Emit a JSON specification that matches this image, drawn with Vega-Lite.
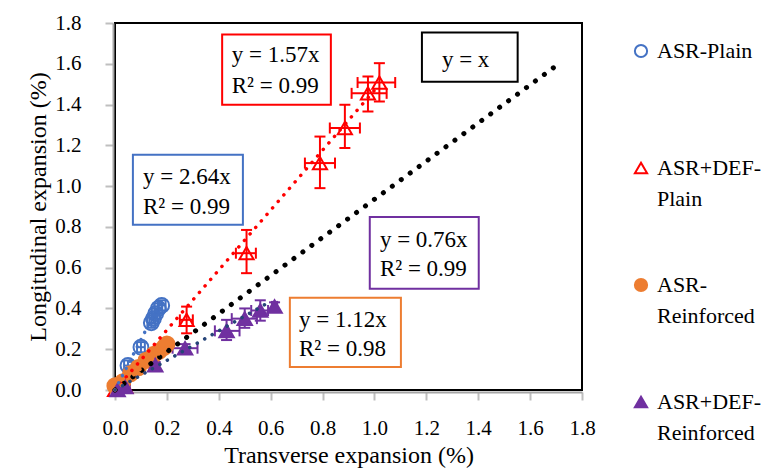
{
  "$schema": "https://vega.github.io/schema/vega-lite/v6.json",
  "width": 467,
  "height": 367,
  "autosize": {"type": "none"},
  "padding": {"left": 115, "top": 23, "right": 191, "bottom": 80},
  "background": "white",
  "config": {
    "font": "Liberation Serif",
    "view": {"stroke": "black", "strokeWidth": 2},
    "axis": {
      "grid": false,
      "labelFlush": false,
      "domainColor": "#a6a6a6",
      "domainWidth": 2,
      "offset": 2,
      "tickColor": "#bfbfbf",
      "tickWidth": 2,
      "tickSize": 8,
      "labelFont": "Liberation Serif",
      "labelFontSize": 21,
      "labelColor": "black",
      "titleFont": "Liberation Serif",
      "titleFontSize": 24,
      "titleFontWeight": "normal",
      "titleColor": "black"
    },
    "legend": {
      "orient": "right",
      "offset": 31,
      "padding": 17,
      "symbolSize": 150,
      "symbolStrokeWidth": 2,
      "labelFontSize": 22,
      "labelFont": "Liberation Serif",
      "labelColor": "black",
      "labelOffset": 5,
      "rowPadding": 64,
      "labelLimit": 250
    },
    "style": {"guide-label": {"lineHeight": 31, "font": "Liberation Serif", "fill": "black"}}
  },
  "datasets": {
    "pts": [
      {"s": "ASR-Plain", "x": 0.005, "y": 0.02, "xlo": 0.0, "xhi": 0.02, "ylo": 0.0, "yhi": 0.045},
      {"s": "ASR-Plain", "x": 0.05, "y": 0.12, "xlo": 0.035, "xhi": 0.065, "ylo": 0.095, "yhi": 0.145},
      {"s": "ASR-Plain", "x": 0.1, "y": 0.21, "xlo": 0.085, "xhi": 0.115, "ylo": 0.185, "yhi": 0.235},
      {"s": "ASR-Plain", "x": 0.14, "y": 0.33, "xlo": 0.125, "xhi": 0.155, "ylo": 0.305, "yhi": 0.355},
      {"s": "ASR-Plain", "x": 0.148, "y": 0.35, "xlo": 0.133, "xhi": 0.163, "ylo": 0.325, "yhi": 0.375},
      {"s": "ASR-Plain", "x": 0.157, "y": 0.375, "xlo": 0.142, "xhi": 0.172, "ylo": 0.35, "yhi": 0.4},
      {"s": "ASR-Plain", "x": 0.167, "y": 0.4, "xlo": 0.152, "xhi": 0.182, "ylo": 0.375, "yhi": 0.425},
      {"s": "ASR-Plain", "x": 0.18, "y": 0.415, "xlo": 0.165, "xhi": 0.195, "ylo": 0.39, "yhi": 0.44},
      {"s": "ASR+DEF-Plain", "x": 0.0, "y": 0.0, "xlo": 0.0, "xhi": 0.01, "ylo": 0.0, "yhi": 0.01},
      {"s": "ASR+DEF-Plain", "x": 0.04, "y": 0.015, "xlo": 0.03, "xhi": 0.05, "ylo": 0.005, "yhi": 0.025},
      {"s": "ASR+DEF-Plain", "x": 0.276, "y": 0.344, "xlo": 0.25, "xhi": 0.3, "ylo": 0.278, "yhi": 0.409},
      {"s": "ASR+DEF-Plain", "x": 0.507, "y": 0.671, "xlo": 0.466, "xhi": 0.543, "ylo": 0.573, "yhi": 0.785},
      {"s": "ASR+DEF-Plain", "x": 0.79, "y": 1.113, "xlo": 0.732, "xhi": 0.848, "ylo": 0.99, "yhi": 1.243},
      {"s": "ASR+DEF-Plain", "x": 0.886, "y": 1.285, "xlo": 0.828, "xhi": 0.944, "ylo": 1.187, "yhi": 1.399},
      {"s": "ASR+DEF-Plain", "x": 0.975, "y": 1.455, "xlo": 0.912, "xhi": 1.047, "ylo": 1.366, "yhi": 1.538},
      {"s": "ASR+DEF-Plain", "x": 1.019, "y": 1.508, "xlo": 0.935, "xhi": 1.08, "ylo": 1.415, "yhi": 1.603},
      {"s": "ASR-Reinforced", "x": 0.0, "y": 0.02, "xlo": 0.0, "xhi": 0.005, "ylo": 0.015, "yhi": 0.025},
      {"s": "ASR-Reinforced", "x": 0.03, "y": 0.04, "xlo": 0.025, "xhi": 0.035, "ylo": 0.035, "yhi": 0.045},
      {"s": "ASR-Reinforced", "x": 0.06, "y": 0.08, "xlo": 0.055, "xhi": 0.065, "ylo": 0.075, "yhi": 0.085},
      {"s": "ASR-Reinforced", "x": 0.09, "y": 0.11, "xlo": 0.085, "xhi": 0.095, "ylo": 0.105, "yhi": 0.115},
      {"s": "ASR-Reinforced", "x": 0.12, "y": 0.145, "xlo": 0.115, "xhi": 0.125, "ylo": 0.14, "yhi": 0.15},
      {"s": "ASR-Reinforced", "x": 0.15, "y": 0.175, "xlo": 0.145, "xhi": 0.155, "ylo": 0.17, "yhi": 0.18},
      {"s": "ASR-Reinforced", "x": 0.17, "y": 0.19, "xlo": 0.165, "xhi": 0.175, "ylo": 0.185, "yhi": 0.195},
      {"s": "ASR-Reinforced", "x": 0.19, "y": 0.21, "xlo": 0.185, "xhi": 0.195, "ylo": 0.205, "yhi": 0.215},
      {"s": "ASR-Reinforced", "x": 0.2, "y": 0.225, "xlo": 0.195, "xhi": 0.205, "ylo": 0.22, "yhi": 0.23},
      {"s": "ASR+DEF-Reinforced", "x": 0.01, "y": 0.0, "xlo": 0.005, "xhi": 0.015, "ylo": 0.0, "yhi": 0.005},
      {"s": "ASR+DEF-Reinforced", "x": 0.04, "y": 0.015, "xlo": 0.035, "xhi": 0.045, "ylo": 0.01, "yhi": 0.02},
      {"s": "ASR+DEF-Reinforced", "x": 0.155, "y": 0.122, "xlo": 0.145, "xhi": 0.165, "ylo": 0.107, "yhi": 0.137},
      {"s": "ASR+DEF-Reinforced", "x": 0.27, "y": 0.205, "xlo": 0.222, "xhi": 0.318, "ylo": 0.19, "yhi": 0.225},
      {"s": "ASR+DEF-Reinforced", "x": 0.43, "y": 0.29, "xlo": 0.385, "xhi": 0.48, "ylo": 0.245, "yhi": 0.344},
      {"s": "ASR+DEF-Reinforced", "x": 0.5, "y": 0.35, "xlo": 0.45, "xhi": 0.547, "ylo": 0.305, "yhi": 0.4},
      {"s": "ASR+DEF-Reinforced", "x": 0.56, "y": 0.39, "xlo": 0.525, "xhi": 0.59, "ylo": 0.34, "yhi": 0.44},
      {"s": "ASR+DEF-Reinforced", "x": 0.615, "y": 0.41, "xlo": 0.605, "xhi": 0.625, "ylo": 0.39, "yhi": 0.43}
    ],
    "lines": [
      {"s": "y = x", "x": 0, "y": 0},
      {"s": "y = x", "x": 1.7, "y": 1.59},
      {"s": "ASR-Plain", "x": 0, "y": 0},
      {"s": "ASR-Plain", "x": 0.18, "y": 0.445},
      {"s": "ASR+DEF-Plain", "x": 0, "y": 0},
      {"s": "ASR+DEF-Plain", "x": 1.0, "y": 1.47},
      {"s": "ASR-Reinforced", "x": 0, "y": 0},
      {"s": "ASR-Reinforced", "x": 0.2, "y": 0.21},
      {"s": "ASR+DEF-Reinforced", "x": 0, "y": 0},
      {"s": "ASR+DEF-Reinforced", "x": 0.6, "y": 0.435}
    ],
    "boxes": [
      {"s": "ASR+DEF-Plain", "x": 0.413, "x2": 0.832, "y": 1.743, "y2": 1.399},
      {"s": "ASR-Plain", "x": 0.069, "x2": 0.493, "y": 1.154, "y2": 0.81},
      {"s": "y = x", "x": 1.183, "x2": 1.552, "y": 1.753, "y2": 1.512},
      {"s": "ASR+DEF-Reinforced", "x": 0.982, "x2": 1.402, "y": 0.849, "y2": 0.496},
      {"s": "ASR-Reinforced", "x": 0.674, "x2": 1.102, "y": 0.452, "y2": 0.113}
    ],
    "notes": [
      {"x": 0.45, "y": 1.645, "t": "y = 1.57x"},
      {"x": 0.45, "y": 1.489, "t": "R² = 0.99"},
      {"x": 0.108, "y": 1.046, "t": "y = 2.64x"},
      {"x": 0.108, "y": 0.898, "t": "R² = 0.99"},
      {"x": 1.26, "y": 1.62, "t": "y = x"},
      {"x": 1.021, "y": 0.736, "t": "y = 0.76x"},
      {"x": 1.021, "y": 0.594, "t": "R² = 0.99"},
      {"x": 0.709, "y": 0.344, "t": "y = 1.12x"},
      {"x": 0.709, "y": 0.201, "t": "R² = 0.98"}
    ]
  },
  "layer": [
    {
      "data": {"name": "boxes"},
      "mark": {"type": "rect", "filled": false, "strokeWidth": 2},
      "encoding": {
        "x": {"field": "x", "type": "quantitative", "scale": {"domain": [0, 1.8], "nice": false, "zero": false},
          "axis": {"title": "Transverse expansion (%)", "values": [0, 0.2, 0.4, 0.6, 0.8, 1.0, 1.2, 1.4, 1.6, 1.8], "format": ".1f", "labelPadding": 17, "titlePadding": 5}},
        "x2": {"field": "x2"},
        "y": {"field": "y", "type": "quantitative", "scale": {"domain": [0, 1.8], "nice": false, "zero": false},
          "axis": {"title": "Longitudinal expansion (%)", "values": [0, 0.2, 0.4, 0.6, 0.8, 1.0, 1.2, 1.4, 1.6, 1.8], "format": ".1f", "labelPadding": 24, "titlePadding": 4}},
        "y2": {"field": "y2"},
        "color": {"field": "s", "type": "nominal", "legend": null,
          "scale": {"domain": ["ASR-Plain", "ASR+DEF-Plain", "ASR-Reinforced", "ASR+DEF-Reinforced", "y = x"], "range": ["#4472C4", "#FF0000", "#ED7D31", "#7030A0", "#000000"]}}
      }
    },
    {
      "data": {"name": "notes"},
      "mark": {"type": "text", "align": "left", "baseline": "middle", "fontSize": 23, "font": "Liberation Serif", "color": "black"},
      "encoding": {
        "x": {"field": "x", "type": "quantitative"},
        "y": {"field": "y", "type": "quantitative"},
        "text": {"field": "t", "type": "nominal"}
      }
    },
    {
      "data": {"name": "pts"},
      "mark": {"type": "rule", "strokeWidth": 2, "opacity": 1},
      "encoding": {
        "x": {"field": "x", "type": "quantitative"},
        "y": {"field": "ylo", "type": "quantitative"},
        "y2": {"field": "yhi"},
        "color": {"field": "s", "type": "nominal", "legend": null}
      }
    },
    {
      "data": {"name": "pts"},
      "mark": {"type": "rule", "strokeWidth": 2, "opacity": 1},
      "encoding": {
        "y": {"field": "y", "type": "quantitative"},
        "x": {"field": "xlo", "type": "quantitative"},
        "x2": {"field": "xhi"},
        "color": {"field": "s", "type": "nominal", "legend": null}
      }
    },
    {
      "data": {"name": "pts"},
      "mark": {"type": "tick", "orient": "horizontal", "size": 11, "thickness": 2, "opacity": 1},
      "encoding": {
        "x": {"field": "x", "type": "quantitative"},
        "y": {"field": "ylo", "type": "quantitative"},
        "color": {"field": "s", "type": "nominal", "legend": null}
      }
    },
    {
      "data": {"name": "pts"},
      "mark": {"type": "tick", "orient": "horizontal", "size": 11, "thickness": 2, "opacity": 1},
      "encoding": {
        "x": {"field": "x", "type": "quantitative"},
        "y": {"field": "yhi", "type": "quantitative"},
        "color": {"field": "s", "type": "nominal", "legend": null}
      }
    },
    {
      "data": {"name": "pts"},
      "mark": {"type": "tick", "orient": "vertical", "size": 11, "thickness": 2, "opacity": 1},
      "encoding": {
        "x": {"field": "xlo", "type": "quantitative"},
        "y": {"field": "y", "type": "quantitative"},
        "color": {"field": "s", "type": "nominal", "legend": null}
      }
    },
    {
      "data": {"name": "pts"},
      "mark": {"type": "tick", "orient": "vertical", "size": 11, "thickness": 2, "opacity": 1},
      "encoding": {
        "x": {"field": "xhi", "type": "quantitative"},
        "y": {"field": "y", "type": "quantitative"},
        "color": {"field": "s", "type": "nominal", "legend": null}
      }
    },
    {
      "data": {"name": "pts"},
      "mark": {"type": "point", "strokeWidth": 2, "opacity": 1},
      "encoding": {
        "x": {"field": "x", "type": "quantitative"},
        "y": {"field": "y", "type": "quantitative"},
        "shape": {"field": "s", "type": "nominal",
          "scale": {"domain": ["ASR-Plain", "ASR+DEF-Plain", "ASR-Reinforced", "ASR+DEF-Reinforced"], "range": ["circle", "triangle-up", "circle", "triangle-up"]},
          "legend": {"title": null, "labelFont": "Liberation Serif", "labelColor": "black", "labelFontSize": 22,
            "labelExpr": "datum.label == 'ASR-Plain' ? ['ASR-Plain', ''] : datum.label == 'ASR+DEF-Plain' ? ['ASR+DEF-', 'Plain'] : datum.label == 'ASR-Reinforced' ? ['ASR-', 'Reinforced'] : ['ASR+DEF-', 'Reinforced']"}},
        "stroke": {"field": "s", "type": "nominal",
          "scale": {"domain": ["ASR-Plain", "ASR+DEF-Plain", "ASR-Reinforced", "ASR+DEF-Reinforced"], "range": ["#4472C4", "#FF0000", "#ED7D31", "#7030A0"]},
          "legend": {"title": null, "labelFont": "Liberation Serif", "labelColor": "black", "labelFontSize": 22,
            "labelExpr": "datum.label == 'ASR-Plain' ? ['ASR-Plain', ''] : datum.label == 'ASR+DEF-Plain' ? ['ASR+DEF-', 'Plain'] : datum.label == 'ASR-Reinforced' ? ['ASR-', 'Reinforced'] : ['ASR+DEF-', 'Reinforced']"}},
        "fill": {"field": "s", "type": "nominal",
          "scale": {"domain": ["ASR-Plain", "ASR+DEF-Plain", "ASR-Reinforced", "ASR+DEF-Reinforced"], "range": ["transparent", "transparent", "#ED7D31", "#7030A0"]},
          "legend": {"title": null, "labelFont": "Liberation Serif", "labelColor": "black", "labelFontSize": 22,
            "labelExpr": "datum.label == 'ASR-Plain' ? ['ASR-Plain', ''] : datum.label == 'ASR+DEF-Plain' ? ['ASR+DEF-', 'Plain'] : datum.label == 'ASR-Reinforced' ? ['ASR-', 'Reinforced'] : ['ASR+DEF-', 'Reinforced']"}},
        "size": {"field": "s", "type": "nominal", "legend": null,
          "scale": {"range": [200, 230, 170, 190]}}
      }
    },
    {
      "data": {"name": "lines"},
      "transform": [{"filter": "datum.s == 'y = x'"}],
      "mark": {"type": "line", "color": "black", "strokeWidth": 5, "strokeCap": "round", "strokeDash": [0.1, 11]},
      "encoding": {"x": {"field": "x", "type": "quantitative"}, "y": {"field": "y", "type": "quantitative"}}
    },
    {
      "data": {"name": "lines"},
      "transform": [{"filter": "datum.s == 'ASR+DEF-Plain'"}],
      "mark": {"type": "line", "color": "#FF0000", "strokeWidth": 3.5, "strokeCap": "round", "strokeDash": [0.1, 8.5]},
      "encoding": {"x": {"field": "x", "type": "quantitative"}, "y": {"field": "y", "type": "quantitative"}}
    },
    {
      "data": {"name": "lines"},
      "transform": [{"filter": "datum.s == 'ASR-Plain'"}],
      "mark": {"type": "line", "color": "#4472C4", "strokeWidth": 3.5, "strokeCap": "round", "strokeDash": [0.1, 8]},
      "encoding": {"x": {"field": "x", "type": "quantitative"}, "y": {"field": "y", "type": "quantitative"}}
    },
    {
      "data": {"name": "lines"},
      "transform": [{"filter": "datum.s == 'ASR-Reinforced'"}],
      "mark": {"type": "line", "color": "#ED7D31", "strokeWidth": 3.5, "strokeCap": "round", "strokeDash": [0.1, 8]},
      "encoding": {"x": {"field": "x", "type": "quantitative"}, "y": {"field": "y", "type": "quantitative"}}
    },
    {
      "data": {"name": "lines"},
      "transform": [{"filter": "datum.s == 'ASR+DEF-Reinforced'"}],
      "mark": {"type": "line", "color": "#264478", "strokeWidth": 3.5, "strokeCap": "round", "strokeDash": [0.1, 8.5]},
      "encoding": {"x": {"field": "x", "type": "quantitative"}, "y": {"field": "y", "type": "quantitative"}}
    }
  ]
}
